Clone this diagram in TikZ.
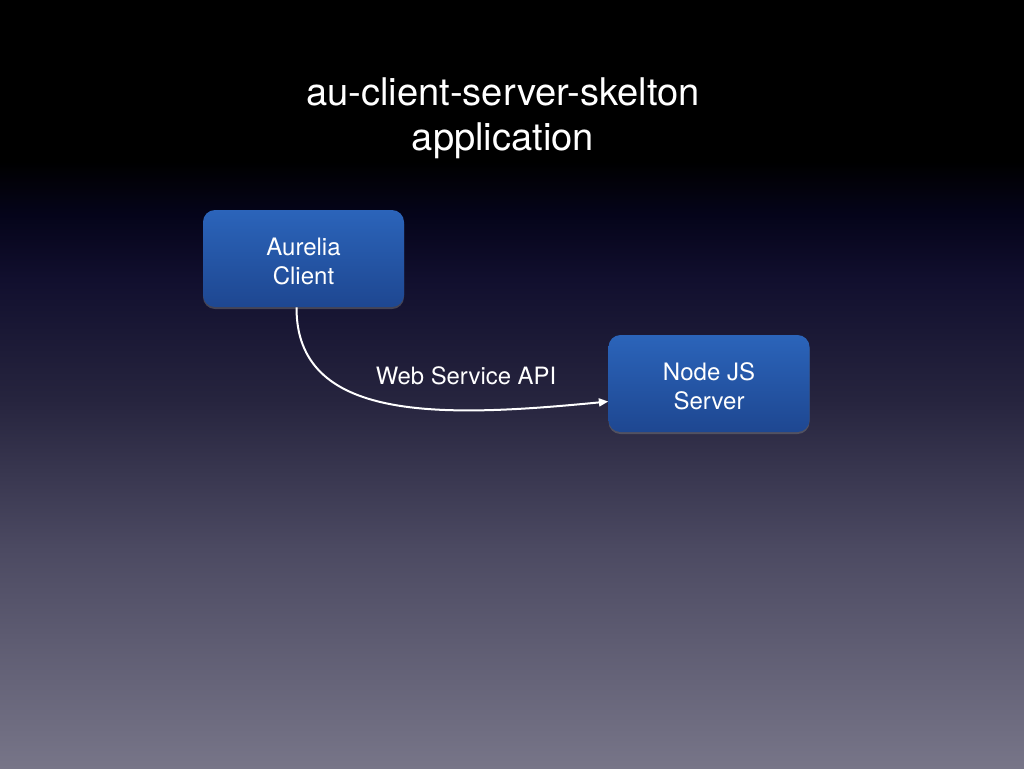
\documentclass[tikz,border=0pt]{standalone}
\usepackage{fontspec}
\setmainfont{TeX Gyre Heros}
\usetikzlibrary{calc,shadows,arrows.meta}
\definecolor{bgA}{HTML}{000000}
\definecolor{bgB}{HTML}{05041A}
\definecolor{bgC}{HTML}{110F2E}
\definecolor{bgD}{HTML}{26243E}
\definecolor{bgE}{HTML}{4C4A62}
\definecolor{bgF}{HTML}{777588}
\definecolor{boxtop}{HTML}{2B64BA}
\definecolor{boxbot}{HTML}{1E4791}
\pgfdeclareverticalshading{bgshade}{100bp}{%
  color(0bp)=(bgF); color(25bp)=(bgF); color(39.2bp)=(bgE); color(49bp)=(bgD);
  color(56.8bp)=(bgC); color(61bp)=(bgB); color(64.5bp)=(bgA); color(75bp)=(bgA); color(100bp)=(bgA)}
\tikzset{
  appbox/.style={rounded corners=9pt, top color=boxtop, bottom color=boxbot,
    minimum width=150.75pt, minimum height=72.75pt, inner sep=0pt,
    drop shadow={opacity=0.45, shadow xshift=0pt, shadow yshift=-1.5pt}},
  boxtext/.style={text=white, font=\fontsize{18}{21.8}\selectfont, align=center, yshift=-2pt},
  titletext/.style={text=white, font=\fontsize{28.6}{34}\selectfont, align=center},
  labeltext/.style={text=white, font=\fontsize{17.9}{21}\selectfont},
  flow/.style={draw=white, line width=1.5pt, -{Triangle[length=7pt,width=6pt]}}
}
\begin{document}
\begin{tikzpicture}[x=0.75pt,y=-0.75pt]
\useasboundingbox (0,0) rectangle (1024,768);
\shade[shading=bgshade] (0,0) rectangle (1024,768);
\node[titletext] (title) at (503,118) {au-client-server-skelton\\application};
\node[appbox, label={[boxtext]center:Aurelia\\Client}] (client) at (303.5,258.5) {};
\node[appbox, label={[boxtext]center:Node JS\\Server}] (server) at (709,383.5) {};
\node[labeltext] (api) at (466,376) {Web Service API};
\draw[flow] ($(client.south)+(-7,0)$) .. controls (296,422) and (440,418) .. ($(server.west)+(0,18)$);
\end{tikzpicture}
\end{document}
